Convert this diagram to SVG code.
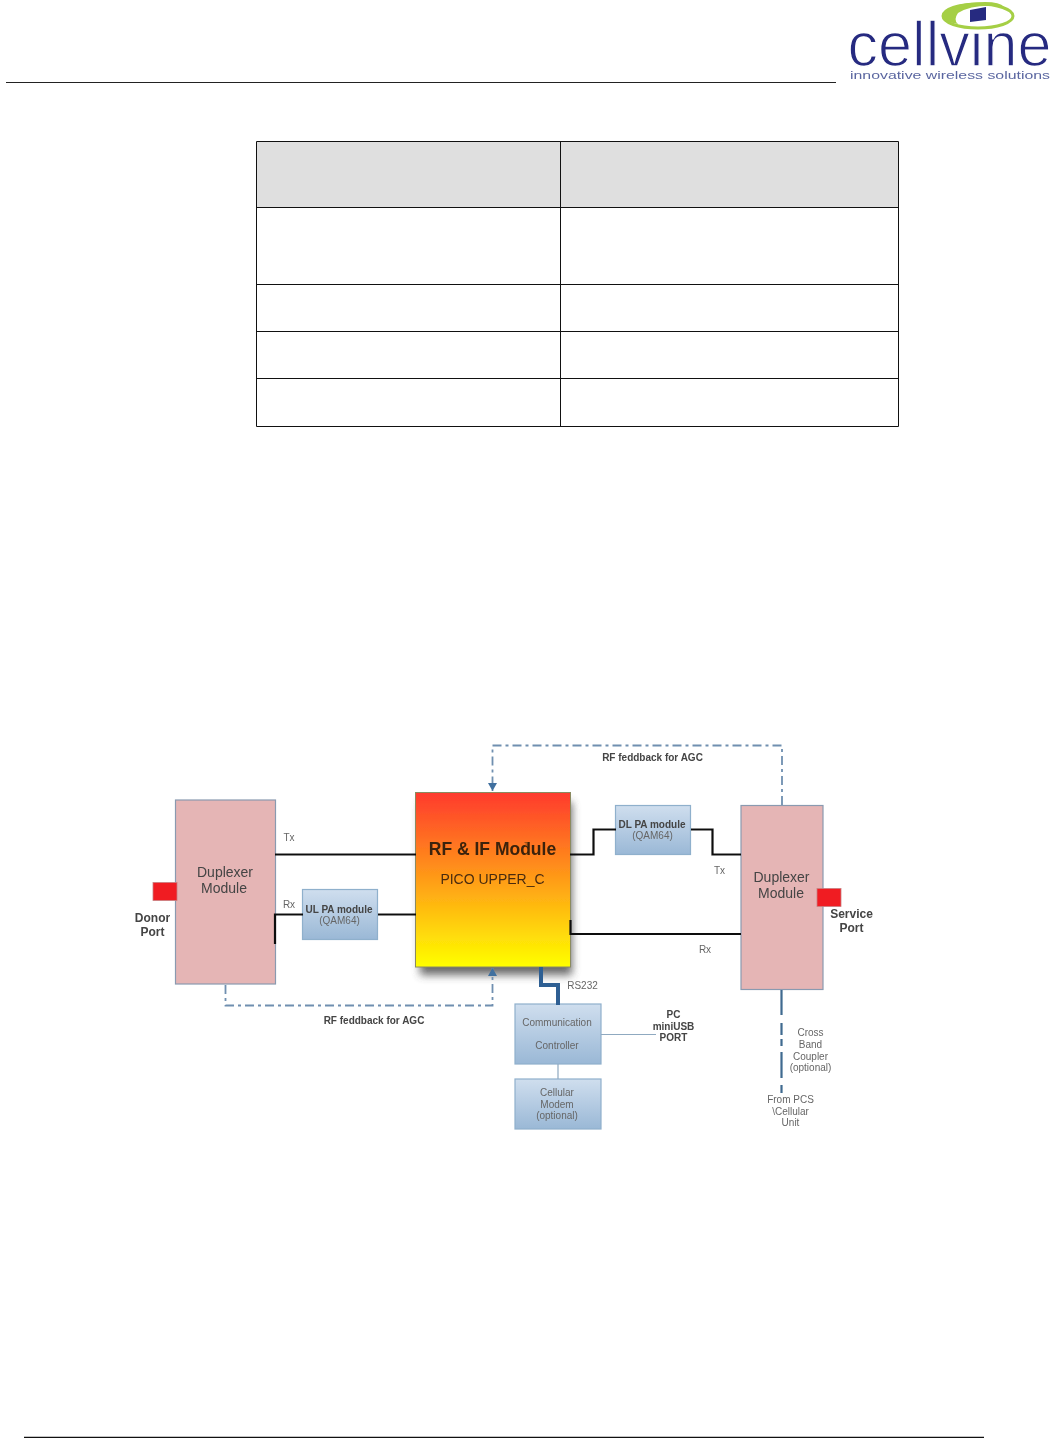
<svg xmlns="http://www.w3.org/2000/svg" width="1056" height="1438" viewBox="0 0 1056 1438">
<style>
text{font-family:"Liberation Sans",Arial,sans-serif;fill:#555;text-anchor:middle}
.b{font-weight:bold;fill:#444}
.d{font-size:14px;fill:#444}
.s{font-size:10px;fill:#666}
.bk{fill:none;stroke:#111;stroke-width:2.2}
.fb{fill:none;stroke:#6f8fb0;stroke-width:1.8;stroke-dasharray:9 4 3 4}
.dup{fill:#e5b5b5;stroke:#8a9ab0;stroke-width:1.2}
.blue{fill:url(#bl);stroke:#8fb0cc;stroke-width:1.2}
.red{fill:#f01a22;stroke:#c98080;stroke-width:.8}
.hd{fill:#dfdfdf}
.tb{fill:none;stroke:#111;stroke-width:1}
</style>
<defs>
<linearGradient id="bl" x1="0" y1="0" x2="0" y2="1"><stop offset="0" stop-color="#cfdeee"/><stop offset="1" stop-color="#9ab8d6"/></linearGradient>
<linearGradient id="rf" x1="0" y1="0" x2="0" y2="1"><stop offset="0" stop-color="#ff3a2e"/><stop offset="1" stop-color="#ffff00"/></linearGradient>
<filter id="sh" filterUnits="userSpaceOnUse" x="390" y="780" width="220" height="220"><feGaussianBlur stdDeviation="4"/></filter>
<filter id="soft" filterUnits="userSpaceOnUse" x="100" y="720" width="800" height="430"><feGaussianBlur stdDeviation="0.450"/></filter>
<filter id="soft2" filterUnits="userSpaceOnUse" x="830" y="0" width="226" height="90"><feGaussianBlur stdDeviation="0.500"/></filter>
<marker id="ar" markerWidth="9" markerHeight="9" refX="8" refY="4.5" orient="auto" markerUnits="userSpaceOnUse"><path d="M0 0L8 4.5L0 9Z" fill="#3f6f9f"/></marker>
</defs>
<rect width="1056" height="1438" fill="#fff"/>
<g id="header">
<path d="M6 82.5H836" stroke="#222" stroke-width="1"/>
<path d="M24 1437.5H984" stroke="#111" stroke-width="1.6"/>
</g>
<g id="logo" filter="url(#soft2)">
<text x="949.500" y="66" font-size="63" textLength="204" lengthAdjust="spacingAndGlyphs" stroke="#fff" stroke-width="1.400" style="fill:#252a80">cellvine</text>
<text x="950" y="79" font-size="10" textLength="200" lengthAdjust="spacingAndGlyphs" style="fill:#5a66a0">innovative wireless solutions</text>
<ellipse cx="978" cy="16" rx="35" ry="12" fill="#fff" stroke="#a5cf45" stroke-width="3"/>
<path d="M943 17Q945 3 985 2Q1000 2 1004 7Q975 3 958 13Q953 20 958 24Q944 22 943 17Z" fill="#a5cf45"/>
<path d="M970 10L986 7V20L970 22Z" fill="#252a80"/>
</g>
<g id="table">
<rect class="hd" x="257" y="142" width="641" height="65"/>
<path class="tb" d="M256.5 141.5H898.5V426.5H256.5ZM560.5 141.5V426.5M256.5 207.5H898.5M256.5 284.5H898.5M256.5 331.5H898.5M256.5 378.5H898.5"/>
</g>
<g id="diagram" filter="url(#soft)">
<g id="duplexer-left">
<rect class="dup" x="175.500" y="800" width="100" height="184"/>
<text class="d" x="225" y="877">Duplexer</text>
<text class="d" x="224" y="893">Module</text>
</g>
<g id="donor-port">
<rect class="red" x="153" y="882.500" width="24" height="18"/>
<text class="b" font-size="12" x="152.500" y="922">Donor</text>
<text class="b" font-size="12" x="152.500" y="936">Port</text>
</g>
<g id="ul-pa">
<rect class="blue" x="302.500" y="889.500" width="75" height="50"/>
<text class="b" font-size="10" x="339" y="913">UL PA module</text>
<text class="s" x="339.500" y="924">(QAM64)</text>
</g>
<g id="rf-if-module">
<rect x="420" y="802" width="152" height="173" fill="#444" opacity=".8" filter="url(#sh)"/>
<rect x="415.500" y="792.500" width="155" height="174.500" fill="url(#rf)" stroke="#8a8a60" stroke-width="1"/>
<text x="492.500" y="855" font-size="17.500" font-weight="bold" style="fill:#3a2208">RF &amp; IF Module</text>
<text x="492.500" y="884" font-size="14" style="fill:#4a2c10">PICO UPPER_C</text>
<text x="526" y="846" font-size="6" style="fill:#6a4010">T</text>
</g>
<g id="dl-pa">
<rect class="blue" x="615.500" y="805.500" width="75" height="49"/>
<text class="b" font-size="10" x="652" y="828">DL PA module</text>
<text class="s" x="652.500" y="839">(QAM64)</text>
</g>
<g id="duplexer-right">
<rect class="dup" x="741" y="805.500" width="82" height="184"/>
<text class="d" x="781.500" y="882">Duplexer</text>
<text class="d" x="781" y="898">Module</text>
</g>
<g id="service-port">
<rect class="red" x="817" y="888.500" width="24" height="18"/>
<text class="b" font-size="12" x="851.500" y="918">Service</text>
<text class="b" font-size="12" x="851.500" y="932">Port</text>
</g>
<g id="comm-controller">
<rect class="blue" x="515" y="1004" width="86" height="60"/>
<text class="s" x="557" y="1026">Communication</text>
<text class="s" x="557" y="1049">Controller</text>
</g>
<g id="cellular-modem">
<rect class="blue" x="515" y="1079" width="86" height="50"/>
<text class="s" x="557" y="1096">Cellular</text>
<text class="s" x="557" y="1107.500">Modem</text>
<text class="s" x="557" y="1119">(optional)</text>
</g>
<g id="connectors">
<path class="fb" d="M782 805V745.500H492.500V791" marker-end="url(#ar)"/>
<path class="fb" d="M225.500 985V1005.500H492.500V968" marker-end="url(#ar)"/>
<path class="bk" d="M275 854.500H416"/>
<path class="bk" d="M275 944V914.500H303"/>
<path class="bk" d="M378 914.500H416"/>
<path class="bk" d="M570 854.500H593.500V829.500H616"/>
<path class="bk" d="M691 829.500H712.500V854.500H741"/>
<path class="bk" d="M570.500 920V934H741"/>
<path d="M541 967V985H558V1005" fill="none" stroke="#2f5f93" stroke-width="4"/>
<path d="M601 1034.500H656M558 1064V1079" fill="none" stroke="#8fa9c0" stroke-width="1.200"/>
<path d="M781.500 990V1015M781.500 1023V1035M781.500 1039V1046M781.500 1052V1078M781.500 1085V1093" fill="none" stroke="#3f6a90" stroke-width="2.200"/>
</g>
<g id="labels">
<text class="s" x="289" y="841">Tx</text>
<text class="s" x="289" y="908">Rx</text>
<text class="s" x="719.500" y="874">Tx</text>
<text class="s" x="705" y="953">Rx</text>
<text class="s" x="582.500" y="989">RS232</text>
<text class="b" font-size="10" x="652.500" y="761">RF feddback for AGC</text>
<text class="b" font-size="10" x="374" y="1024">RF feddback for AGC</text>
<text class="b" font-size="10" x="673.500" y="1018">PC</text>
<text class="b" font-size="10" x="673.500" y="1030">miniUSB</text>
<text class="b" font-size="10" x="673.500" y="1041">PORT</text>
<text class="s" x="810.500" y="1036">Cross</text>
<text class="s" x="810.500" y="1048">Band</text>
<text class="s" x="810.500" y="1059.500">Coupler</text>
<text class="s" x="810.500" y="1071">(optional)</text>
<text class="s" x="790.500" y="1103">From PCS</text>
<text class="s" x="790.500" y="1115">\Cellular</text>
<text class="s" x="790.500" y="1126">Unit</text>
</g>
</g>
</svg>
